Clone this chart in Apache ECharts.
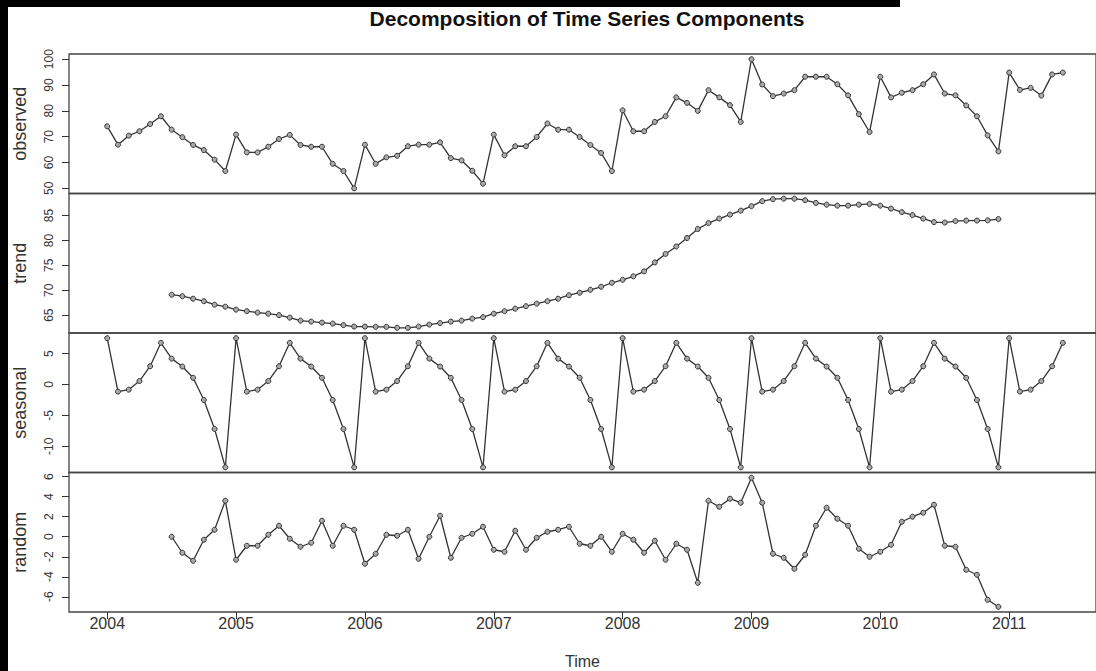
<!DOCTYPE html>
<html>
<head>
<meta charset="utf-8">
<script src="https://cdn.jsdelivr.net/npm/echarts@6/dist/echarts.min.js"></script>
<style>
html,body{margin:0;padding:0;background:#fff;}
#chart{width:1096px;height:671px;}
</style>
</head>
<body>
<div id="chart"></div>
<script>
// ---------------- data ----------------
const startYear = 2004;            // first observation: Jan 2004, monthly
const trendStart = 6;              // trend / random start at Jul 2004
const yearTicks = [2004, 2005, 2006, 2007, 2008, 2009, 2010, 2011];

const observed = [
  74.0, 66.9, 70.4, 72.1, 74.9, 77.9, 72.7, 69.8, 66.8, 64.8, 61.1, 56.7,
  70.8, 63.9, 63.9, 66.1, 69.1, 70.7, 66.8, 66.1, 66.1, 59.5, 56.7, 50.0,
  66.9, 59.5, 62.0, 62.6, 66.3, 66.9, 66.9, 67.8, 61.7, 60.8, 56.8, 51.8,
  70.8, 62.8, 66.3, 66.3, 69.9, 75.1, 72.7, 72.7, 69.9, 66.8, 63.7, 56.7,
  80.2, 72.1, 72.1, 75.7, 77.9, 85.2, 83.1, 80.0, 88.0, 85.2, 82.2, 75.7,
  100.0, 90.2, 85.7, 86.7, 88.0, 93.2, 93.2, 93.2, 90.3, 86.0, 78.7, 71.8,
  93.2, 85.2, 87.0, 88.0, 90.3, 94.1, 86.7, 86.0, 82.1, 77.9, 70.5, 64.3,
  94.8, 88.1, 88.9, 85.9, 94.1, 94.8
];

const trend = [
  69.1, 68.8, 68.3, 67.8, 67.1, 66.7, 66.1, 65.8, 65.5, 65.3,
  65.0, 64.5, 63.9, 63.7, 63.5, 63.3, 63.0, 62.7, 62.7, 62.65,
  62.65, 62.45, 62.45, 62.7, 63.1, 63.4, 63.7, 63.9, 64.3, 64.6,
  65.3, 65.8, 66.3, 66.8, 67.3, 67.8, 68.3, 69.0, 69.5, 70.1,
  70.7, 71.5, 72.1, 72.8, 73.8, 75.6, 77.3, 78.8, 80.5, 82.3,
  83.5, 84.4, 85.2, 86.0, 86.9, 87.9, 88.3, 88.4, 88.4, 88.1,
  87.55, 87.2, 87.0, 87.0, 87.2, 87.35, 87.0, 86.4, 85.7, 85.1,
  84.4, 83.7, 83.6, 83.9, 84.0, 84.0, 84.05, 84.3
];

const seasonal = [
  7.5, -1.15, -0.83, 0.56, 2.96, 6.75, 4.19, 2.91, 1.09, -2.5, -7.2, -13.4,
  7.5, -1.15, -0.83, 0.56, 2.96, 6.75, 4.19, 2.91, 1.09, -2.5, -7.2, -13.4,
  7.5, -1.15, -0.83, 0.56, 2.96, 6.75, 4.19, 2.91, 1.09, -2.5, -7.2, -13.4,
  7.5, -1.15, -0.83, 0.56, 2.96, 6.75, 4.19, 2.91, 1.09, -2.5, -7.2, -13.4,
  7.5, -1.15, -0.83, 0.56, 2.96, 6.75, 4.19, 2.91, 1.09, -2.5, -7.2, -13.4,
  7.5, -1.15, -0.83, 0.56, 2.96, 6.75, 4.19, 2.91, 1.09, -2.5, -7.2, -13.4,
  7.5, -1.15, -0.83, 0.56, 2.96, 6.75, 4.19, 2.91, 1.09, -2.5, -7.2, -13.4,
  7.5, -1.15, -0.83, 0.56, 2.96, 6.75
];

const random = [
  0.0, -1.6, -2.4, -0.3, 0.7, 3.6,
  -2.3, -0.9, -0.9, 0.2, 1.1, -0.2, -1.0, -0.6, 1.6, -0.9, 1.1, 0.7,
  -2.7, -1.7, 0.2, 0.1, 0.7, -2.2, 0.0, 2.1, -2.1, -0.1, 0.3, 1.0,
  -1.3, -1.5, 0.6, -1.3, -0.1, 0.5, 0.7, 1.0, -0.7, -0.9, 0.0, -1.5,
  0.3, -0.3, -1.6, -0.4, -2.3, -0.7, -1.3, -4.6, 3.6, 3.0, 3.8, 3.4,
  5.9, 3.4, -1.7, -2.1, -3.2, -1.8, 1.1, 2.9, 1.8, 1.1, -1.2, -2.0,
  -1.5, -0.8, 1.5, 2.0, 2.4, 3.2, -0.9, -1.0, -3.3, -3.8, -6.3, -7.0
];

const panelNames = ['observed', 'trend', 'seasonal', 'random'];
const yTicks = [
  [50, 60, 70, 80, 90, 100],
  [65, 70, 75, 80, 85],
  [-10, -5, 0, 5],
  [-6, -4, -2, 0, 2, 4, 6]
];
const yRanges = [[48, 102], [61.41, 89.44], [-14.24, 8.34], [-7.52, 6.42]];
const xRange = [2003.7033, 2011.674];

// ---------------- build ----------------
const time = observed.map((_, i) => startYear + i / 12);
const seriesData = [
  observed.map((v, i) => [time[i], v]),
  trend.map((v, k) => [time[k + trendStart], v]),
  seasonal.map((v, i) => [time[i], v]),
  random.map((v, k) => [time[k + trendStart], v])
];

const FONT = "'Liberation Sans', Arial, sans-serif";
const INK = '#333';
const tops = [54, 193.5, 333, 472.5];
const H = 139.5;

const grids = tops.map(t => ({
  left: 69, top: t, right: -2, height: H,
  show: true, borderColor: '#444', borderWidth: 1.3, backgroundColor: 'transparent'
}));

const xAxes = tops.map((t, k) => {
  const last = k === 3;
  return {
    type: 'value', gridIndex: k, min: xRange[0], max: xRange[1],
    splitLine: { show: false },
    axisLine: { show: false, onZero: false },
    axisTick: { show: last, customValues: yearTicks, length: 7, lineStyle: { color: INK, width: 1 } },
    axisLabel: { show: last, customValues: yearTicks, fontSize: 16, color: INK, fontFamily: FONT, margin: 3,
                 formatter: v => String(Math.round(v)) },
    name: last ? 'Time' : '', nameLocation: 'middle', nameGap: 41,
    nameTextStyle: { fontSize: 16, color: INK, fontFamily: FONT }
  };
});

const yAxes = tops.map((t, k) => ({
  type: 'value', gridIndex: k, min: yRanges[k][0], max: yRanges[k][1],
  splitLine: { show: false },
  axisLine: { show: false, onZero: false },
  axisTick: { show: true, customValues: yTicks[k], length: 7, lineStyle: { color: INK, width: 1 } },
  axisLabel: { customValues: yTicks[k], rotate: 90, fontSize: 12, color: INK, fontFamily: FONT, margin: 14,
               formatter: v => String(v) },
  name: panelNames[k], nameLocation: 'middle', nameGap: 40,
  nameTextStyle: { fontSize: 18, color: INK, fontFamily: FONT }
}));

const series = seriesData.map((d, k) => ({
  type: 'line', xAxisIndex: k, yAxisIndex: k, data: d,
  symbol: 'circle', symbolSize: 5,
  lineStyle: { color: INK, width: 1.3 },
  itemStyle: { color: '#aaa', borderColor: INK, borderWidth: 1 },
  animation: false, silent: true
}));

const chart = echarts.init(document.getElementById('chart'), null, { renderer: 'svg' });
chart.setOption({
  backgroundColor: '#fff',
  animation: false,
  grid: grids,
  xAxis: xAxes,
  yAxis: yAxes,
  series: series,
  graphic: [
    { type: 'rect', shape: { x: 0, y: 0, width: 900, height: 7 }, style: { fill: '#000' }, z: 100 },
    { type: 'rect', shape: { x: 0, y: 0, width: 8, height: 671 }, style: { fill: '#000' }, z: 100 },
    { type: 'text', x: 587, y: 18, z: 100,
      style: { text: 'Decomposition of Time Series Components', align: 'center', verticalAlign: 'middle',
               font: "bold 21px 'Liberation Sans', Arial, sans-serif", fill: '#111' } }
  ]
});
</script>
</body>
</html>
